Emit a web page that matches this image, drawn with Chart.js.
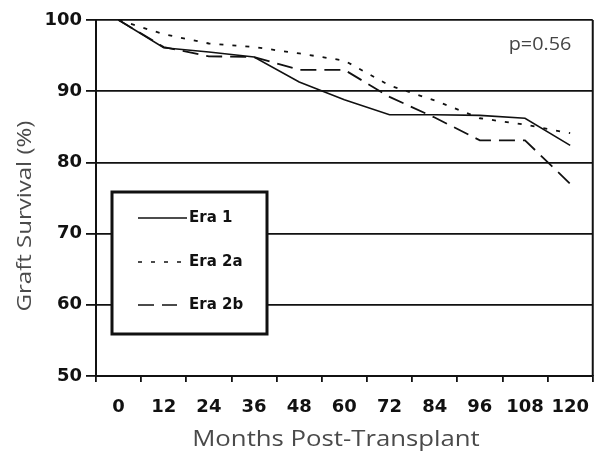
<!DOCTYPE html>
<html>
<head>
<meta charset="utf-8">
<script src="https://cdn.jsdelivr.net/npm/chart.js@4.4.1/dist/chart.umd.min.js"></script>
<style>
  html, body { margin: 0; padding: 0; background: #fff; }
  #wrap { width: 604px; height: 456px; position: relative; }
</style>
</head>
<body>
<div id="wrap"><canvas id="c" width="604" height="456"></canvas></div>
<script>
// ---- data ----
const months = [0, 12, 24, 36, 48, 60, 72, 84, 96, 108, 120];
const tickLabels = ['0', '12', '24', '36', '48', '60', '72', '84', '96', '108', '120'];
const era1  = [100, 96.1, 95.5, 94.8, 91.3, 88.8, 86.7, 86.7, 86.6, 86.2, 82.4];
const era2a = [100, 98.0, 96.7, 96.2, 95.3, 94.3, 90.8, 88.7, 86.2, 85.3, 84.1];
const era2b = [100, 96.2, 94.9, 94.8, 93.0, 93.0, 89.2, 86.3, 83.1, 83.1, 77.0];
const seriesNames = ['Era 1', 'Era 2a', 'Era 2b'];
const yTicks = [50, 60, 70, 80, 90, 100];
const pValueText = 'p=0.56';
const xTitle = 'Months Post-Transplant';
const yTitle = 'Graft Survival (%)';

const toPts = arr => months.map((m, i) => ({ x: m, y: arr[i] }));
const INK = '#111';

const decor = {
  id: 'decor',
  afterDraw(chart) {
    const { ctx, chartArea: a } = chart;
    ctx.save();
    // right frame line
    ctx.strokeStyle = INK; ctx.lineWidth = 2;
    ctx.beginPath(); ctx.moveTo(a.right, a.top); ctx.lineTo(a.right, a.bottom); ctx.stroke();

    // p-value
    ctx.fillStyle = '#444';
    ctx.font = '18px "Open Sans"';
    ctx.textAlign = 'center'; ctx.textBaseline = 'alphabetic';
    ctx.save();
    ctx.translate(540, 50); ctx.scale(1.1, 1);
    ctx.fillText(pValueText, 0, 0);
    ctx.restore();

    // axis titles
    ctx.fillStyle = '#4a4a4a';
    ctx.font = '22px "Open Sans"';
    ctx.textAlign = 'center'; ctx.textBaseline = 'middle';
    ctx.save();
    ctx.translate(336, 440); ctx.scale(1.17, 1);
    ctx.fillText(xTitle, 0, 0);
    ctx.restore();
    ctx.save();
    ctx.translate(25, 216);
    ctx.rotate(-Math.PI / 2);
    ctx.font = '20px "Open Sans"';
    ctx.scale(1.2, 1);
    ctx.fillText(yTitle, 0, 0);
    ctx.restore();

    // legend box
    const bx = 112, by = 192, bw = 155, bh = 142;
    ctx.fillStyle = '#fff';
    ctx.fillRect(bx, by, bw, bh);
    ctx.strokeStyle = INK; ctx.lineWidth = 3;
    ctx.strokeRect(bx, by, bw, bh);
    const rowsY = [218, 262, 305];
    const sampleEnd = [187, 187, 177];
    chart.data.datasets.forEach((ds, i) => {
      const y = rowsY[i];
      ctx.strokeStyle = ds.borderColor; ctx.lineWidth = 1.6;
      ctx.setLineDash(ds.borderDash || []);
      ctx.beginPath(); ctx.moveTo(138, y); ctx.lineTo(sampleEnd[i], y); ctx.stroke();
      ctx.setLineDash([]);
      ctx.fillStyle = INK;
      ctx.font = 'bold 15px "DejaVu Sans"';
      ctx.textAlign = 'left'; ctx.textBaseline = 'middle';
      ctx.fillText(ds.label, 189, y);
    });
    ctx.restore();
  }
};

new Chart(document.getElementById('c'), {
  type: 'line',
  data: {
    datasets: [
      { label: seriesNames[0], data: toPts(era1),  borderColor: INK, borderWidth: 1.6, borderDash: [],      pointRadius: 0, tension: 0, fill: false },
      { label: seriesNames[1], data: toPts(era2a), borderColor: INK, borderWidth: 1.8, borderDash: [4, 9],  pointRadius: 0, tension: 0, fill: false },
      { label: seriesNames[2], data: toPts(era2b), borderColor: INK, borderWidth: 1.8, borderDash: [16, 8], pointRadius: 0, tension: 0, fill: false }
    ]
  },
  options: {
    responsive: false,
    animation: false,
    devicePixelRatio: 1,
    layout: { padding: { top: 20, right: 1, left: 0, bottom: 0 } },
    plugins: { legend: { display: false }, tooltip: { enabled: false } },
    scales: {
      x: {
        type: 'linear',
        min: -6, max: 126,
        afterBuildTicks: s => { s.ticks = months.map(v => ({ value: v })); },
        afterFit: s => { s.height = 80; },
        ticks: {
          autoSkip: false, maxRotation: 0, padding: 15,
          color: INK, font: { family: 'DejaVu Sans', size: 18, weight: 'bold' },
          callback: (v) => tickLabels[months.indexOf(v)]
        },
        grid: { offset: true, drawOnChartArea: false, drawTicks: true, tickLength: 6, color: INK, lineWidth: 1.8 },
        border: { display: true, color: INK, width: 2 }
      },
      y: {
        min: 50, max: 100,
        afterBuildTicks: s => { s.ticks = yTicks.map(v => ({ value: v })); },
        afterFit: s => { s.width = 96; },
        ticks: {
          padding: 4, color: INK,
          font: { family: 'DejaVu Sans', size: 18, weight: 'bold' }
        },
        grid: { drawOnChartArea: true, drawTicks: true, tickLength: 10, color: INK, lineWidth: 1.8 },
        border: { display: true, color: INK, width: 2 }
      }
    }
  },
  plugins: [decor]
});
</script>
</body>
</html>
